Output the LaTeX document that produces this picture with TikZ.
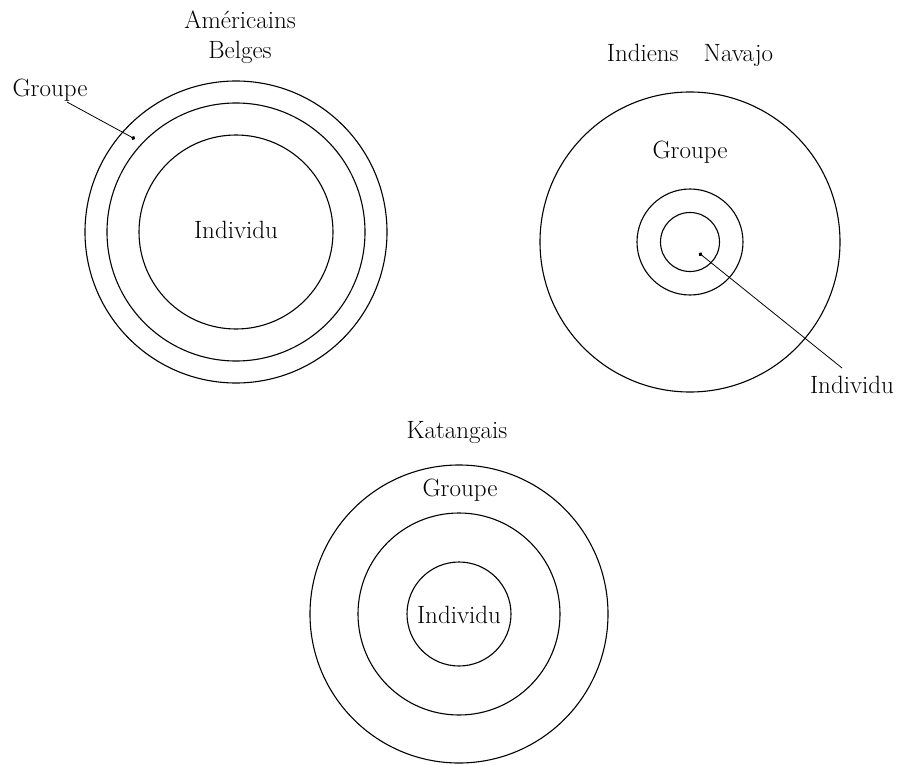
\documentclass[tikz,border=0pt]{standalone}
\usetikzlibrary{arrows.meta}
\tikzset{
  ring/.style={circle, draw, line width=1.1pt, inner sep=0pt},
  lbl/.style={font=\fontsize{25}{30}\selectfont, inner sep=0pt, align=center},
  leader/.style={-{Circle[length=4pt]}, line width=0.8pt}
}
\begin{document}
\begin{tikzpicture}[x=1pt, y=-1pt]
  \useasboundingbox (0,0) rectangle (905,765);

  % Americains / Belges
  \node[ring, minimum size=302pt] (amOut) at (236,232) {};
  \node[ring, minimum size=258pt] (amMid) at (236,232) {};
  \node[ring, minimum size=194pt] (amIn) at (236,232) {};
  \node[lbl] (amTitle) at (240,37) {Américains\\Belges};
  \node[lbl] (amGrp) at (50,90) {Groupe};
  \node[lbl] (amInd) at (236,230) {Individu};
  \coordinate (amFrom) at (67,102);
  \coordinate (amTo) at (135,139);
  \draw[leader] (amFrom) -- (amTo);

  % Indiens Navajo
  \node[ring, minimum size=300pt] (nvOut) at (690,242) {};
  \node[ring, minimum size=106pt] (nvMid) at (690,242) {};
  \node[ring, minimum size=59pt] (nvIn) at (690,242) {};
  \node[lbl] (nvTitle) at (690,55) {Indiens\quad Navajo};
  \node[lbl] (nvGrp) at (690,152) {Groupe};
  \node[lbl] (nvInd) at (852,385) {Individu};
  \coordinate (nvFrom) at (842,368);
  \coordinate (nvTo) at (699,253);
  \draw[leader] (nvFrom) -- (nvTo);

  % Katangais
  \node[ring, minimum size=298pt] (ktOut) at (459,614) {};
  \node[ring, minimum size=202pt] (ktMid) at (459,614) {};
  \node[ring, minimum size=104pt] (ktIn) at (459,614) {};
  \node[lbl] (ktTitle) at (457,433) {Katangais};
  \node[lbl] (ktGrp) at (460,490) {Groupe};
  \node[lbl] (ktInd) at (459,615) {Individu};

\end{tikzpicture}
\end{document}
